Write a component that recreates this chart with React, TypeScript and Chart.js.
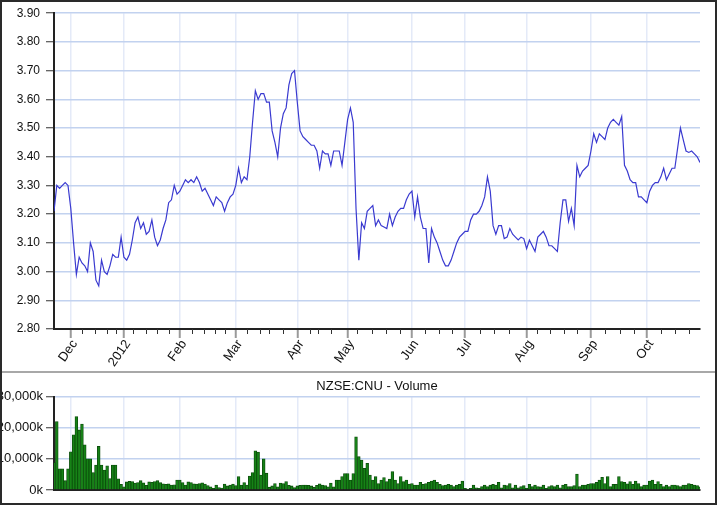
import { useEffect, useRef } from 'react';
import { Chart, registerables } from 'chart.js';

Chart.register(...registerables);

// ---- data ----
const monthStarts = [6, 25, 45, 65, 87, 105, 128, 147, 169, 192, 212];
const monthLabels = ['Dec', '2012', 'Feb', 'Mar', 'Apr', 'May', 'Jun', 'Jul', 'Aug', 'Sep', 'Oct'];
const weekTicks = [9.9, 14.7, 19, 22.3, 28.1, 32.8, 36.7, 41, 49.5, 53.6, 57.6, 61.1, 68.9, 73.7, 77, 82, 91.5, 94.5, 98.9, 108.3, 113.7, 118.8, 123.6, 132.8, 137.5, 142.3, 152.4, 157.2, 162.6, 172.7, 177.4, 182.2, 187, 197.1, 202.5, 207.3, 217, 221.9, 226.9];

const priceValues = [
  3.21, 3.30, 3.29, 3.30, 3.31, 3.30, 3.22, 3.10, 2.99, 3.05,
  3.03, 3.02, 3.00, 3.10, 3.07, 2.97, 2.95, 3.04, 3.00, 2.99,
  3.02, 3.06, 3.05, 3.05, 3.12, 3.05, 3.04, 3.06, 3.11, 3.17,
  3.19, 3.15, 3.17, 3.13, 3.14, 3.18, 3.12, 3.09, 3.11, 3.15,
  3.18, 3.24, 3.25, 3.30, 3.27, 3.28, 3.30, 3.32, 3.31, 3.32,
  3.31, 3.33, 3.31, 3.28, 3.29, 3.27, 3.25, 3.23, 3.26, 3.25,
  3.24, 3.21, 3.24, 3.26, 3.27, 3.30, 3.36, 3.31, 3.33, 3.32,
  3.40, 3.52, 3.63, 3.60, 3.62, 3.62, 3.59, 3.59, 3.49, 3.45,
  3.40, 3.50, 3.55, 3.57, 3.65, 3.69, 3.70, 3.59, 3.49, 3.47,
  3.46, 3.45, 3.44, 3.44, 3.42, 3.36, 3.42, 3.41, 3.41, 3.37,
  3.42, 3.42, 3.42, 3.37, 3.45, 3.53, 3.57, 3.52, 3.22, 3.04,
  3.17, 3.15, 3.21, 3.22, 3.23, 3.16, 3.18, 3.16, 3.155, 3.15,
  3.20, 3.16, 3.19, 3.21, 3.22, 3.22, 3.25, 3.27, 3.28, 3.19,
  3.26, 3.19, 3.15, 3.15, 3.03, 3.15, 3.12, 3.10, 3.07, 3.04,
  3.02, 3.02, 3.04, 3.07, 3.10, 3.12, 3.13, 3.14, 3.14, 3.18,
  3.20, 3.20, 3.21, 3.23, 3.26, 3.33, 3.28, 3.16, 3.13, 3.16,
  3.16, 3.115, 3.12, 3.15, 3.13, 3.12, 3.11, 3.12, 3.115, 3.08,
  3.11, 3.09, 3.07, 3.12, 3.13, 3.14, 3.12, 3.09, 3.09, 3.08,
  3.07, 3.17, 3.25, 3.25, 3.175, 3.22, 3.16, 3.37, 3.33, 3.35,
  3.36, 3.37, 3.42, 3.48, 3.45, 3.48, 3.47, 3.46, 3.50, 3.52,
  3.53, 3.52, 3.51, 3.54, 3.37, 3.35, 3.32, 3.31, 3.31, 3.26,
  3.26, 3.25, 3.24, 3.28, 3.30, 3.31, 3.31, 3.33, 3.36, 3.32,
  3.34, 3.36, 3.36, 3.43, 3.50, 3.46, 3.42, 3.415, 3.42, 3.41,
  3.40, 3.38,
];

// volume in thousands
const volumeValues = [
  8800, 22000, 6800, 6800, 3000, 6800, 12300, 17700, 23600, 19300,
  21200, 14500, 10000, 10000, 5600, 8000, 14000, 8000, 6400, 7800,
  3700, 8000, 8000, 3600, 1800, 1000, 2600, 2800, 2700, 2200,
  2400, 3000, 2300, 1500, 2600, 2500, 2700, 3000, 2400, 2000,
  1800, 2000, 1600, 1700, 3200, 3200, 2400, 1600, 2600, 2400,
  2000, 1900, 2100, 2300, 1900, 1400, 1000, 500, 1600, 800,
  600, 1900, 1300, 1600, 1900, 1400, 4300, 1600, 2400, 1600,
  4500, 5600, 12600, 12200, 4800, 10000, 5400, 900, 1300, 2100,
  1000, 2200, 2100, 2700, 1500, 1300, 800, 1300, 1500, 1600,
  1600, 1500, 1300, 900, 1500, 2000, 1600, 1400, 1000, 2200,
  1000, 3200, 3200, 4300, 5300, 5300, 3200, 5300, 17100, 10700,
  9600, 7000, 8600, 4800, 3200, 4300, 2100, 3200, 4000, 2700,
  3500, 5900, 3200, 2100, 4300, 2700, 3200, 1900, 2100, 1600,
  1600, 2500, 1800, 2100, 2500, 2900, 3200, 2500, 1800, 1400,
  1600, 1800, 1600, 1100, 1600, 1800, 2900, 500, 300, 500,
  1600, 700, 500, 1100, 1600, 1100, 1600, 1800, 1600, 2500,
  700, 1600, 1400, 2100, 700, 1600, 700, 1100, 1400, 500,
  1800, 1100, 1600, 1100, 1000, 1600, 500, 1100, 1400, 1100,
  1600, 700, 1600, 1800, 1100, 1100, 1400, 5100, 1100, 1600,
  1600, 1800, 2100, 2100, 2500, 3200, 4100, 2100, 4300, 1100,
  1800, 1800, 4300, 2700, 2500, 2000, 2700, 1800, 2900, 2100,
  1100, 1600, 1600, 2900, 3200, 1800, 2700, 1800, 1100, 1600,
  1100, 1600, 1600, 1400, 1100, 1600, 1600, 2100, 1800, 1600,
  1400, 1000,
];

const priceMin = 2.8;
const priceMax = 3.9;
const volumeMax = 30000;
const volumeTitle = 'NZSE:CNU - Volume';

const FONT = "'Liberation Sans', Arial, Helvetica, sans-serif";

const minorTickPlugin = {
  id: 'minorTicks',
  afterDraw(chart: any, _args: any, opts: any) {
    if (!opts || !opts.ticks) return;
    const scale = chart.scales.x;
    const ctx = chart.ctx;
    ctx.save();
    ctx.strokeStyle = opts.color;
    ctx.lineWidth = 1;
    for (const v of opts.ticks) {
      const px = Math.round(scale.getPixelForValue(v)) + 0.5;
      ctx.beginPath();
      ctx.moveTo(px, scale.top);
      ctx.lineTo(px, scale.top + opts.length);
      ctx.stroke();
    }
    ctx.restore();
  },
};

export default function App() {
  const topRef = useRef<HTMLCanvasElement>(null);
  const botRef = useRef<HTMLCanvasElement>(null);

  useEffect(() => {
    document.body.style.margin = '0';
    Chart.defaults.font.family = FONT;
    const lastIndex = priceValues.length - 1;
    const monthTicks = (scale: any) => {
      scale.ticks = monthStarts.map((v) => ({ value: v }));
    };

    const top = new Chart(topRef.current as HTMLCanvasElement, {
      type: 'line',
      data: {
        datasets: [
          {
            data: priceValues.map((y, i) => ({ x: i, y })),
            borderColor: '#3a3ad0',
            borderWidth: 1.2,
            pointRadius: 0,
            tension: 0,
            fill: false,
          },
        ],
      },
      plugins: [minorTickPlugin],
      options: {
        animation: false,
        responsive: false,
        devicePixelRatio: 1,
        layout: { padding: { top: 9, right: 17, left: 0, bottom: 0 } },
        plugins: {
          legend: { display: false },
          tooltip: { enabled: false },
          minorTicks: { ticks: weekTicks, color: '#333', length: 5 },
        } as any,
        scales: {
          x: {
            type: 'linear',
            min: 0,
            max: lastIndex,
            offset: false,
            afterBuildTicks: monthTicks,
            afterFit: (s: any) => {
              s.height = 42;
            },
            border: { display: true, color: '#222', width: 2 },
            grid: {
              color: '#e4eaf8',
              lineWidth: 1.5,
              tickColor: '#9a9a9a',
              tickLength: 9,
              tickWidth: 2,
            },
            ticks: {
              autoSkip: false,
              minRotation: 55,
              maxRotation: 55,
              padding: -1,
              labelOffset: 4,
              color: '#111',
              font: { size: 13, family: FONT },
              callback: (_v: any, i: number) => monthLabels[i],
            },
          },
          y: {
            type: 'linear',
            min: priceMin,
            max: priceMax,
            afterFit: (s: any) => {
              s.width = 54;
            },
            border: { display: true, color: '#222', width: 2 },
            grid: {
              color: '#c2d2ef',
              lineWidth: 1.5,
              tickColor: '#333',
              tickLength: 8,
              tickWidth: 1,
            },
            ticks: {
              stepSize: 0.1,
              padding: 6,
              color: '#111',
              font: { size: 12, family: FONT },
              callback: (v: any) => Number(v).toFixed(2),
            },
          },
        },
      },
    });

    const bot = new Chart(botRef.current as HTMLCanvasElement, {
      type: 'bar',
      data: {
        datasets: [
          {
            data: volumeValues.map((y, i) => ({ x: i, y })),
            backgroundColor: '#168216',
            borderColor: '#0a4a0a',
            borderWidth: 0.8,
            barPercentage: 1,
            categoryPercentage: 1,
          },
        ],
      },
      options: {
        animation: false,
        responsive: false,
        devicePixelRatio: 1,
        layout: { padding: { top: 0, right: 17, left: 0, bottom: 0 } },
        plugins: {
          legend: { display: false },
          tooltip: { enabled: false },
          title: {
            display: true,
            fullSize: false,
            text: volumeTitle,
            color: '#111',
            font: { size: 13, weight: 'normal', family: FONT },
            padding: { top: 6, bottom: 2 },
          },
        },
        scales: {
          x: {
            type: 'linear',
            min: 0,
            max: lastIndex,
            offset: false,
            afterBuildTicks: monthTicks,
            afterFit: (s: any) => {
              s.height = 15;
            },
            border: { display: true, color: '#222', width: 2 },
            grid: {
              offset: false,
              color: '#e4eaf8',
              lineWidth: 1.5,
              drawTicks: false,
            },
            ticks: { display: false },
          },
          y: {
            type: 'linear',
            min: 0,
            max: volumeMax,
            afterFit: (s: any) => {
              s.width = 54;
            },
            border: { display: true, color: '#222', width: 2 },
            grid: {
              color: '#c2d2ef',
              lineWidth: 1.5,
              tickColor: '#333',
              tickLength: 8,
              tickWidth: 1,
            },
            ticks: {
              stepSize: 10000,
              padding: 3,
              color: '#111',
              font: { size: 13, family: FONT },
              callback: (v: any) => Number(v).toLocaleString('en-US') + 'k',
            },
          },
        },
      },
    });

    return () => {
      top.destroy();
      bot.destroy();
    };
  }, []);

  return (
    <div
      style={{
        position: 'fixed',
        left: 0,
        top: 0,
        width: 717,
        height: 505,
        overflow: 'hidden',
        background: '#fff',
      }}
    >
      <canvas
        ref={topRef}
        width={717}
        height={371}
        style={{ position: 'absolute', left: 0, top: 0, display: 'block' }}
      />
      <canvas
        ref={botRef}
        width={717}
        height={132}
        style={{ position: 'absolute', left: 0, top: 373, display: 'block' }}
      />
      <div
        style={{
          position: 'absolute',
          left: 0,
          top: 371,
          width: 717,
          height: 2,
          background: '#a8a8a8',
        }}
      />
      <div
        style={{
          position: 'absolute',
          left: 0,
          top: 0,
          width: 717,
          height: 505,
          border: '2px solid #2a2a2a',
          boxSizing: 'border-box',
          pointerEvents: 'none',
        }}
      />
    </div>
  );
}
